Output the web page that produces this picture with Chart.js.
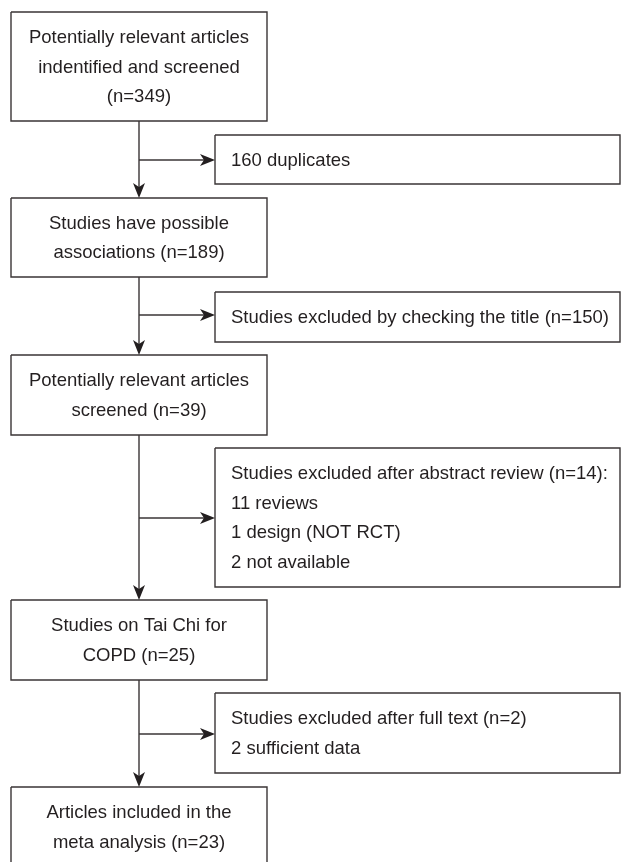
<!DOCTYPE html>
<html>
<head>
<meta charset="utf-8">
<script src="https://cdn.jsdelivr.net/npm/chart.js@4.4.1/dist/chart.umd.min.js"></script>
<style>
  html, body { margin: 0; padding: 0; background: #fff; }
  #wrap { width: 622px; height: 862px; }
</style>
</head>
<body>
<div id="wrap"><canvas id="flow"></canvas></div>
<script>
// numbers
const stageCounts = [349, 189, 39, 25, 23];
const excludedCounts = [160, 150, 14, 2];
const abstractReasons = ['11 reviews', '1 design (NOT RCT)', '2 not available'];
const fullTextReasons = ['2 sufficient data'];

const stageText = [
  ['Potentially relevant articles', 'indentified and screened', '(n=' + stageCounts[0] + ')'],
  ['Studies have possible', 'associations (n=' + stageCounts[1] + ')'],
  ['Potentially relevant articles', 'screened (n=' + stageCounts[2] + ')'],
  ['Studies on Tai Chi for', 'COPD (n=' + stageCounts[3] + ')'],
  ['Articles included in the', 'meta analysis (n=' + stageCounts[4] + ')']
];
const excludedText = [
  [excludedCounts[0] + ' duplicates'],
  ['Studies excluded by checking the title (n=' + excludedCounts[1] + ')'],
  ['Studies excluded after abstract review (n=' + excludedCounts[2] + '):'].concat(abstractReasons),
  ['Studies excluded after full text (n=' + excludedCounts[3] + ')'].concat(fullTextReasons)
];

// layout, in the same units as the axes (0..622 across, 0..862 down)
const mainX = [11, 267];
const sideX = [215, 620];
const spineX = 139;
const stageRows = [[12, 121], [198, 277], [355, 435], [600, 680], [787, 867]];
const sideRows = [[135, 184], [292, 342], [448, 587], [693, 773]];
const branchY = [160, 315, 518, 734];

const ink = '#3a3536';
const textInk = '#231f20';
const lineH = 29.5;

function boxPts(x, y) {
  return [{x: x[0], y: y[0]}, {x: x[1], y: y[0]}, {x: x[1], y: y[1]}, {x: x[0], y: y[1]}, {x: x[0], y: y[0]}];
}

const datasets = [];
stageRows.forEach(r => datasets.push({data: boxPts(mainX, r)}));
sideRows.forEach(r => datasets.push({data: boxPts(sideX, r)}));
for (let i = 0; i < stageRows.length - 1; i++) {
  datasets.push({data: [{x: spineX, y: stageRows[i][1]}, {x: spineX, y: stageRows[i + 1][0] - 4}]});
}
branchY.forEach(y => datasets.push({data: [{x: spineX, y: y}, {x: sideX[0] - 4, y: y}]}));
datasets.forEach(d => Object.assign(d, {
  showLine: true, borderColor: ink, borderWidth: 1.4, pointRadius: 0, fill: false, tension: 0
}));

const flowPlugin = {
  id: 'flow',
  afterDatasetsDraw(chart) {
    const {ctx, scales: {x, y}} = chart;
    const px = v => x.getPixelForValue(v);
    const py = v => y.getPixelForValue(v);

    // arrow heads: tip at (tx,ty), direction angle a
    function head(tx, ty, a) {
      ctx.save();
      ctx.translate(tx, ty);
      ctx.rotate(a);
      ctx.beginPath();
      ctx.moveTo(0, 0);
      ctx.lineTo(-15, -6);
      ctx.lineTo(-11, 0);
      ctx.lineTo(-15, 6);
      ctx.closePath();
      ctx.fillStyle = '#231f20';
      ctx.fill();
      ctx.restore();
    }
    for (let i = 0; i < stageRows.length - 1; i++) {
      head(px(spineX), py(stageRows[i + 1][0]), Math.PI / 2);
    }
    branchY.forEach(v => head(px(sideX[0]), py(v), 0));

    ctx.save();
    ctx.fillStyle = textInk;
    ctx.font = '18.5px "Liberation Sans", Arial, Helvetica, sans-serif';
    ctx.textBaseline = 'middle';
    ctx.textAlign = 'center';
    stageText.forEach((lines, i) => {
      const cy = (stageRows[i][0] + stageRows[i][1]) / 2 + 1;
      const cx = (mainX[0] + mainX[1]) / 2;
      lines.forEach((t, j) => {
        ctx.fillText(t, px(cx), py(cy + (j - (lines.length - 1) / 2) * lineH));
      });
    });
    ctx.textAlign = 'left';
    excludedText.forEach((lines, i) => {
      const cy = (sideRows[i][0] + sideRows[i][1]) / 2 + 1;
      lines.forEach((t, j) => {
        ctx.fillText(t, px(sideX[0] + 16), py(cy + (j - (lines.length - 1) / 2) * lineH));
      });
    });
    ctx.restore();
  }
};

new Chart(document.getElementById('flow'), {
  type: 'scatter',
  data: {datasets: datasets},
  options: {
    responsive: true,
    maintainAspectRatio: false,
    animation: false,
    layout: {padding: 0},
    scales: {
      x: {type: 'linear', min: 0, max: 622, display: false},
      y: {type: 'linear', min: 0, max: 862, reverse: true, display: false}
    },
    plugins: {legend: {display: false}, tooltip: {enabled: false}}
  },
  plugins: [flowPlugin]
});
</script>
</body>
</html>
